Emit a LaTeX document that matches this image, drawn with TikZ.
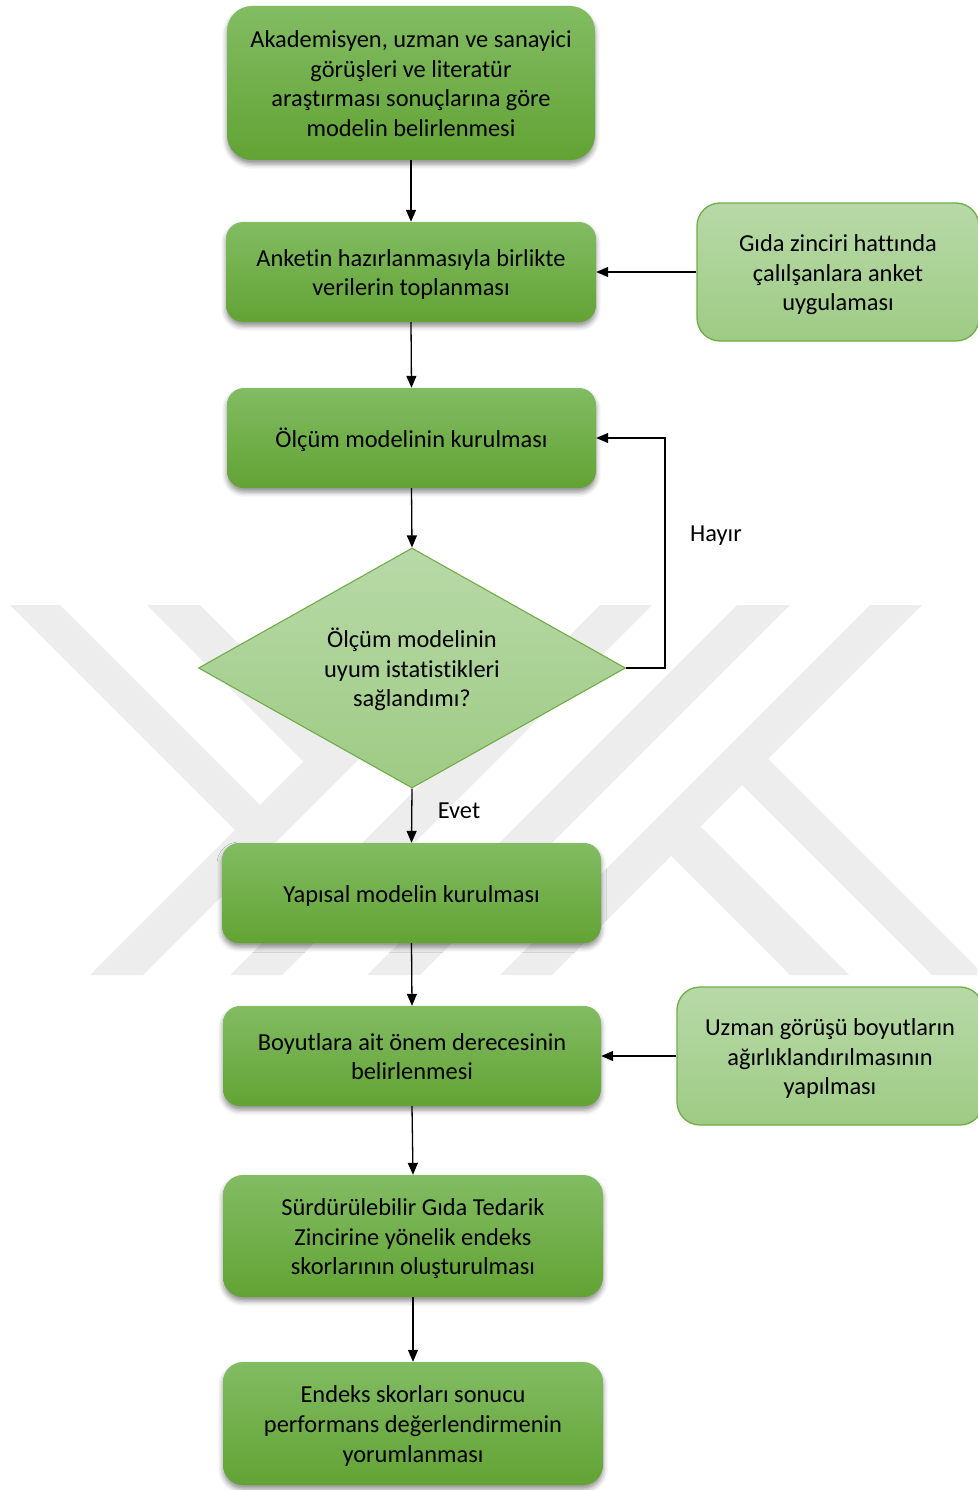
\documentclass[tikz,border=0pt]{standalone}
\usepackage{fontspec}
\setmainfont{Carlito}[Ligatures=NoCommon]
\usetikzlibrary{arrows.meta,shapes.geometric,shadows.blur}

\definecolor{boxtop}{RGB}{130,188,99}
\definecolor{boxbot}{RGB}{98,163,52}
\definecolor{lighttop}{RGB}{184,217,168}
\definecolor{lightbot}{RGB}{158,203,132}
\definecolor{lightedge}{RGB}{112,173,71}
\definecolor{wmark}{RGB}{237,237,237}

\tikzset{
  every node/.style={font=\fontsize{24.4}{29.6}\selectfont, text=black},
  % fixed text box so that every block of lines sits at the same optical centre
  lines/.is choice,
  lines/1/.style={text height=23pt, text depth=5pt},
  lines/2/.style={text height=52.6pt, text depth=5pt},
  lines/3/.style={text height=82.2pt, text depth=5pt},
  lines/4/.style={text height=111.8pt, text depth=5pt},
  stepbox/.style={rectangle, rounded corners=#1, top color=boxtop, bottom color=boxbot,
    draw=none, align=center, inner sep=0pt,
    blur shadow={shadow xshift=0pt, shadow yshift=-4pt, shadow blur radius=5pt, shadow opacity=45}},
  stepbox/.default=17pt,
  sidebox/.style={rectangle, rounded corners=23pt, top color=lighttop, bottom color=lightbot,
    draw=lightedge, line width=1.3pt, align=center, inner sep=0pt},
  decision/.style={diamond, aspect=1.78, top color=lighttop, bottom color=lightbot,
    draw=lightedge, line width=1.1pt, align=center, inner sep=0pt},
  conn/.style={draw=black, line width=1.3pt, -{Triangle[length=12pt,width=10pt]}},
  tag/.style={inner sep=0pt}
}

\begin{document}
\begin{tikzpicture}[x=1pt,y=-1pt]
\useasboundingbox (0,0) rectangle (977,1490);

% faint emblem in the background
\begin{scope}
  \clip (0,605) rectangle (977,975);
  % two arms joining the long left stroke
  \fill[wmark] (10,605) -- (60,605) -- (286.5,831.5) -- (235,830) -- cycle;
  \fill[wmark] (147,605) -- (200,605) -- (356.5,761.5) -- (303.5,761.5) -- cycle;
  % long slanted strokes
  \fill[wmark] (460,605) -- (513,605) -- (143,975) -- (90,975) -- cycle;
  \fill[wmark] (600,605) -- (652,605) -- (282,975) -- (230,975) -- cycle;
  \fill[wmark] (737,605) -- (790,605) -- (420,975) -- (367,975) -- cycle;
  \fill[wmark] (870,605) -- (922,605) -- (552,975) -- (500,975) -- cycle;
  % legs on the right
  \fill[wmark] (754.5,745.5) -- (984,975) -- (932,975) -- (728.5,771.5) -- cycle;
  \fill[wmark] (687,813) -- (849,975) -- (790,975) -- (657.5,842.5) -- cycle;
\end{scope}

% process steps
\node[stepbox=25pt, lines=4, minimum width=368pt, minimum height=154pt] (b1) at (411,83)
  {Akademisyen, uzman ve sanayici\\görüşleri ve literatür\\araştırması sonuçlarına göre\\modelin belirlenmesi};
\node[stepbox, lines=2, minimum width=370pt, minimum height=100pt] (b2) at (411,272)
  {Anketin hazırlanmasıyla birlikte\\verilerin toplanması};
\node[sidebox, lines=3, minimum width=282pt, minimum height=138pt] (s1) at (838,272)
  {Gıda zinciri hattında\\çalılşanlara anket\\uygulaması};
\node[stepbox, lines=1, minimum width=369pt, minimum height=100pt] (b3) at (411.5,438)
  {Ölçüm modelinin kurulması};
\node[decision, lines=3, minimum width=427pt, minimum height=240pt] (dia) at (412,668)
  {Ölçüm modelinin\\uyum istatistikleri\\sağlandımı?};
\node[stepbox, lines=1, minimum width=379pt, minimum height=100pt] (b4) at (411.5,893)
  {Yapısal modelin kurulması};
\node[stepbox, lines=2, minimum width=378pt, minimum height=100pt] (b5) at (412,1056)
  {Boyutlara ait önem derecesinin\\belirlenmesi};
\node[sidebox, lines=3, minimum width=306pt, minimum height=138pt] (s2) at (830,1056)
  {Uzman görüşü boyutların\\ağırlıklandırılmasının\\yapılması};
\node[stepbox=20pt, lines=3, minimum width=380pt, minimum height=122pt] (b6) at (413,1236)
  {Sürdürülebilir Gıda Tedarik\\Zincirine yönelik endeks\\skorlarının oluşturulması};
\node[stepbox=20pt, lines=3, minimum width=380pt, minimum height=123pt] (b7) at (413,1423.5)
  {Endeks skorları sonucu\\performans değerlendirmenin\\yorumlanması};

% branch labels
\node[tag] (no) at (716,536) {Hayır};
\node[tag] (yes) at (459,811) {Evet};

% connectors
\coordinate (loopx) at (665,550);
\draw[conn] (b1.south) -- (b2.north);
\draw[conn] (s1.west) -- (b2.east);
\draw[conn] (b2.south) -- (b3.north);
\draw[conn] (b3.south) -- (dia.north);
\draw[conn] (dia.east) -- (dia.east -| loopx) |- (b3.east);
\draw[conn] (dia.south) -- (b4.north);
\draw[conn] (b4.south) -- (b5.north);
\draw[conn] (s2.west) -- (b5.east);
\draw[conn] (b5.south) -- (b6.north);
\draw[conn] (b6.south) -- (b7.north);
\end{tikzpicture}
\end{document}
